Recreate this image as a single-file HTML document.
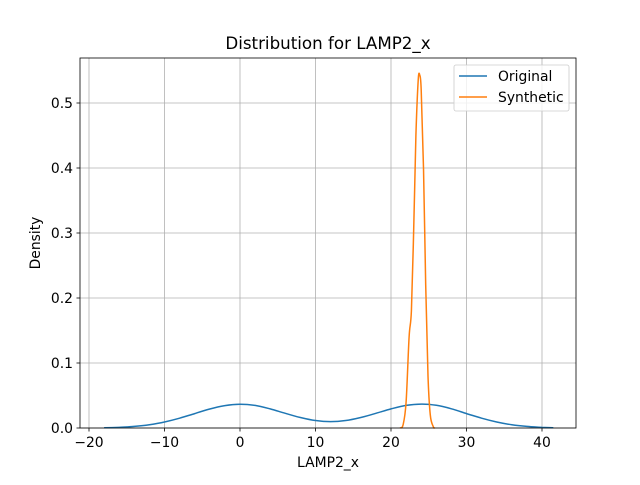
<!DOCTYPE html>
<html><head><meta charset="utf-8"><style>
body{margin:0;background:#fff}
svg{font-family:"DejaVu Sans","Liberation Sans",sans-serif}
</style></head><body>
<svg id="c" width="640" height="480" xmlns="http://www.w3.org/2000/svg"></svg>
<script>
const xTicks=[-20,-10,0,10,20,30,40];
const yTicks=[0.0,0.1,0.2,0.3,0.4,0.5];
const origX=[-18,-16,-14,-12,-10,-8,-6,-4,-2,0,2,4,6,8,10,12,14,16,18,20,22,24,26,28,30,32,34,36,38,40,41.5];
const origY=[0.0004,0.0010,0.0024,0.0050,0.0092,0.0151,0.0222,0.0293,0.0345,0.0365,0.0347,0.0294,0.0226,0.0161,0.0115,0.0099,0.0115,0.0161,0.0226,0.0294,0.0347,0.0368,0.0350,0.0296,0.0222,0.0151,0.0092,0.0050,0.0024,0.0010,0.0005];
const synX=[21.2,21.6,22.0,22.4,22.7,23.0,23.3,23.6,23.8,24.0,24.3,24.6,24.9,25.2,25.6,25.8];
const synY=[0,0.005,0.04,0.14,0.18,0.30,0.45,0.535,0.543,0.52,0.40,0.22,0.08,0.02,0.002,0];
const L=80,R=576,T=58,B=428;
const sx=v=>240+(v-0)*7.55;
const sy=v=>B-v*650;
const svg=document.getElementById('c');
const NS='http://www.w3.org/2000/svg';
function mk(t,a,p){const e=document.createElementNS(NS,t);for(const k in a)e.setAttribute(k,a[k]);(p||svg).appendChild(e);return e;}
function smooth(xs,ys){const P=xs.map((v,i)=>[sx(v),sy(ys[i])]);let d='M'+P[0][0].toFixed(1)+','+P[0][1].toFixed(1);
for(let i=0;i<P.length-1;i++){const p0=P[Math.max(0,i-1)],p1=P[i],p2=P[i+1],p3=P[Math.min(P.length-1,i+2)];
const c1=[p1[0]+(p2[0]-p0[0])/6,p1[1]+(p2[1]-p0[1])/6],c2=[p2[0]-(p3[0]-p1[0])/6,p2[1]-(p3[1]-p1[1])/6];
d+='C'+c1.map(n=>n.toFixed(1))+' '+c2.map(n=>n.toFixed(1))+' '+p2.map(n=>n.toFixed(1));}return d;}
xTicks.forEach(v=>{const x=sx(v);
const g=mk('line',{x1:x,x2:x,y1:T,y2:B,stroke:'#b0b0b0','stroke-width':0.8});

mk('line',{x1:x,x2:x,y1:B,y2:B+3.5,stroke:'#000','stroke-width':0.8});
const t=mk('text',{x:x,y:B+19,'text-anchor':'middle','font-size':13.9});t.textContent=v<0?'\u2212'+(-v):v;
});
yTicks.forEach(v=>{const y=sy(v);
const g=mk('line',{x1:L,x2:R,y1:y,y2:y,stroke:'#b0b0b0','stroke-width':0.8});

mk('line',{x1:L-3.5,x2:L,y1:y,y2:y,stroke:'#000','stroke-width':0.8});
const t=mk('text',{x:L-7,y:y+5,'text-anchor':'end','font-size':13.9});t.textContent=v.toFixed(1);
});
function line(xs,ys,c,n){
const p=mk('path',{d:smooth(xs,ys),fill:'none',stroke:c,'stroke-width':1.5,'stroke-linejoin':'round'});
}
line(origX,origY,'#1f77b4','original-line');
line(synX,synY,'#ff7f0e','synthetic-line');
const f=mk('rect',{x:L,y:T,width:R-L,height:B-T,fill:'none',stroke:'#000','stroke-width':0.8});

</script>
<svg style="position:absolute;left:0;top:0" width="640" height="480" xmlns="http://www.w3.org/2000/svg">
<text x="328" y="49" text-anchor="middle" font-size="16.7">Distribution for LAMP2_x</text>
<text x="328" y="467" text-anchor="middle" font-size="13.9">LAMP2_x</text>
<text x="40" y="243" text-anchor="middle" font-size="13.9" transform="rotate(-90 40 243)">Density</text>
<g>
<rect x="454" y="65" width="115" height="46" rx="2" fill="#fff" fill-opacity="0.8" stroke="#ccc" stroke-width="0.8"/>
<g><line x1="459" x2="487" y1="76" y2="76" stroke="#1f77b4" stroke-width="1.5"/><text x="498" y="81" font-size="13.9">Original</text></g>
<g><line x1="459" x2="487" y1="97" y2="97" stroke="#ff7f0e" stroke-width="1.5"/><text x="498" y="102" font-size="13.9">Synthetic</text></g>
</g>
</svg>
</body></html>
